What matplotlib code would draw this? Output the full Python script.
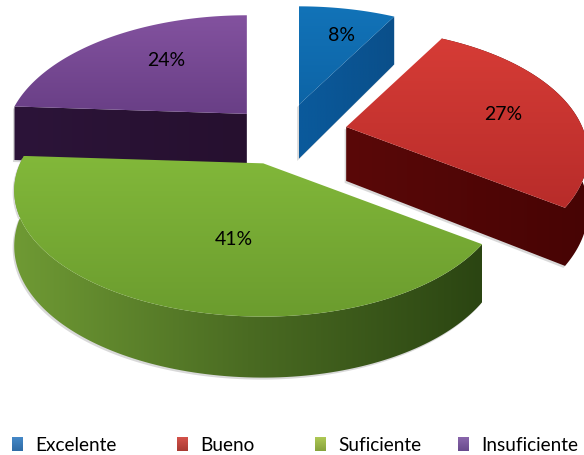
import numpy as np
import matplotlib
matplotlib.use("Agg")
import matplotlib.pyplot as plt
from matplotlib.colors import LinearSegmentedColormap
from matplotlib.patches import Polygon

labels = ["Excelente", "Bueno", "Suficiente", "Insuficiente"]
values = [8, 27, 41, 24]
explode = [0.25, 0.27, 0.26, 0.23]
left_stretch = [1, 1, 1.03, 1]

label_r = [0.70, 0.69, 0.56, 0.63]
label_turn = [3, 3, -9, 6]

top_colors = [("#1273b8", "#0d64a6"), ("#d63c36", "#b82c2a"), ("#82b83a", "#6b9c2e"), ("#83529f", "#693f86")]
side_colors = [("#0a5a9c", "#0a4f8a"), ("#5a0808", "#470404"), ("#6f9a34", "#4a6b22", "#2b4512"), ("#2c1439", "#26102f")]
legend_colors = [("#4589c8", "#2f6ba5"), ("#d4524a", "#a83a32"), ("#afc955", "#86a23c"), ("#8a66ac", "#684a8c")]
legend_x = [12, 177, 315, 458]

# view of the disc
cx, cy = 284, 135
rx, ry = 236, 120
persp = 0.217


def disc(x, y, off, stretch=1):
    w = 1 + persp * y
    x = np.where(x < 0, x * stretch, x)
    return off[0] + rx * x / w, off[1] - ry * y / w


def fill_gradient(ax, pts, colors, horizontal=False, z=2):
    cmap = LinearSegmentedColormap.from_list("g", list(colors))
    patch = Polygon(pts, closed=True, fc="none", ec="none", zorder=z)
    ax.add_patch(patch)
    grad = np.linspace(0, 1, 256).reshape(1, -1) if horizontal else np.linspace(0, 1, 256).reshape(-1, 1)
    x0, y0 = pts.min(axis=0)
    x1, y1 = pts.max(axis=0)
    im = ax.imshow(grad, cmap=cmap, extent=[x0, x1, y1, y0], aspect="auto", zorder=z)
    im.set_clip_path(patch)
    return im


fig = plt.figure(figsize=(5.84, 4.56), dpi=100)
ax = fig.add_axes([0, 0, 1, 1])

edges = np.concatenate([[0], np.cumsum(values)]) * 3.6
# back wedges first, green last because it sits in front
order = [0, 3, 1, 2]
for n, i in enumerate(order):
    a0, a1 = edges[i], edges[i + 1]
    mid = np.radians((a0 + a1) / 2)
    off = (cx + explode[i] * rx * np.sin(mid), cy - explode[i] * ry * np.cos(mid))
    ang = np.radians(np.linspace(a0, a1, 120))
    dx = np.concatenate([[0], np.sin(ang)])
    dy = np.concatenate([[0], np.cos(ang)])
    top = np.column_stack(disc(dx, dy, off, left_stretch[i]))
    # near edge of the body looks a bit thicker than the far edge
    lower = top + np.column_stack([np.zeros_like(dy), 54 - 7 * dy])
    if i == 0:
        side = np.array([top[0], top[-1], lower[-1], lower[0]])
    elif i == 1:
        side = np.vstack([top[0], top[-1:0:-1], lower[1:], lower[0]])
    elif i == 2:
        side = np.vstack([top[1:], lower[:0:-1]])
    else:
        side = np.vstack([top[1], top[0], lower[0], lower[1]])
    z = 2 + n
    ax.add_patch(Polygon(side + [-1.5, 2], closed=True, fc="#c9c9c9", ec="none", alpha=0.7, zorder=z))
    fill_gradient(ax, side, side_colors[i], horizontal=True, z=z)
    fill_gradient(ax, top, top_colors[i], z=z)

    la = mid + np.radians(label_turn[i])
    lx, ly = disc(label_r[i] * np.sin(la), label_r[i] * np.cos(la), off, left_stretch[i])
    ax.text(lx, ly, f"{values[i]}%", ha="center", va="center", fontsize=14, family="Lato", color="black", zorder=9)

for i, name in enumerate(labels):
    sw = np.array([[legend_x[i], 438], [legend_x[i] + 11, 438], [legend_x[i] + 11, 452], [legend_x[i], 452]], float)
    fill_gradient(ax, sw, legend_colors[i])
    ax.text(legend_x[i] + 23, 446, name, ha="left", va="center", fontsize=13.7, family="Lato", color="black")

ax.set_xlim(0, 584)
ax.set_ylim(456, 0)
ax.axis("off")
fig.savefig("out.png", dpi=100)
